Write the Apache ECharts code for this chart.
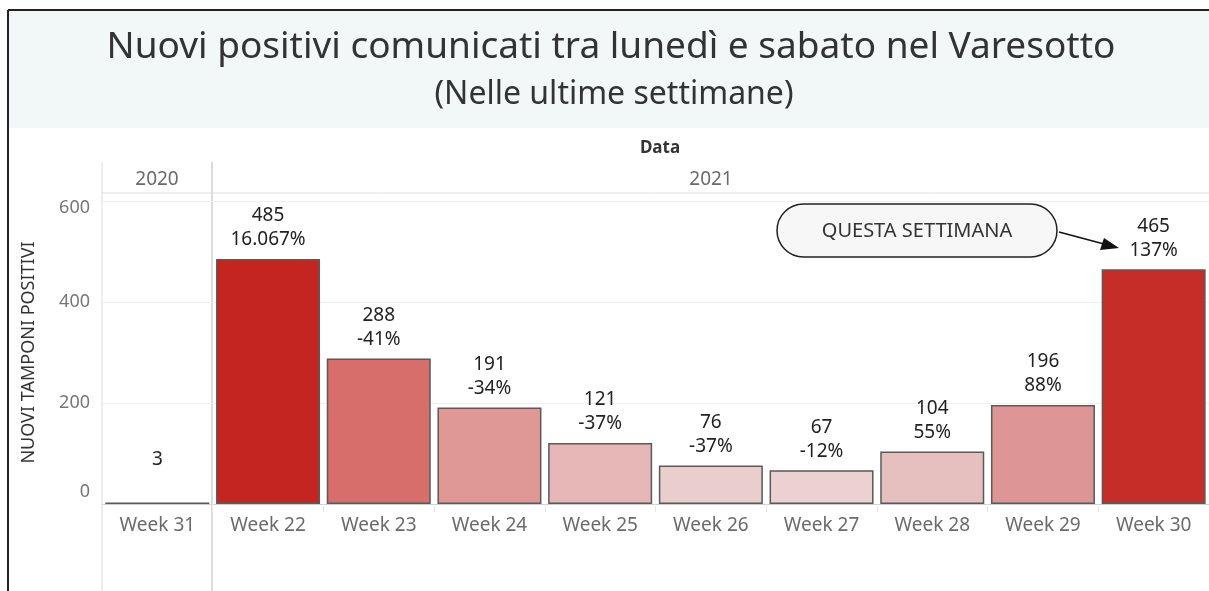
<!DOCTYPE html>
<html>
<head>
<meta charset="utf-8">
<script src="https://cdn.jsdelivr.net/npm/echarts@6/dist/echarts.min.js"></script>
<style>
  html, body { margin: 0; padding: 0; background: #fff; }
  #main { width: 1209px; height: 591px; }
</style>
</head>
<body>
<div id="main"></div>
<script>
// dati
const weeks = ["Week 31", "Week 22", "Week 23", "Week 24", "Week 25", "Week 26", "Week 27", "Week 28", "Week 29", "Week 30"];
const positivi = [3, 485, 288, 191, 121, 76, 67, 104, 196, 465];
const variazione = ["", "16.067%", "-41%", "-34%", "-37%", "-37%", "-12%", "55%", "88%", "137%"];
const years = ["2020", "2021"];
const yTicks = [0, 200, 400, 600];

// colori delle barre (scala rossa)
const barColors = ["#f4f4f4", "#c42520", "#d76e6b", "#df9896", "#e6b7b6", "#eacdcd", "#ebd1d1", "#e6c0bf", "#dd9695", "#c52d29"];

const font = "Noto Sans";
const chart = echarts.init(document.getElementById("main"));

// etichette asse y: la prima e l'ultima spostate verso l'interno come in Tableau
const yLabel = v => {
  if (!yTicks.includes(v)) return "";
  if (v === 0) return "{low|" + v + "}";
  if (v === 600) return "{high|" + v + "}";
  return String(v);
};

const option = {
  animation: false,
  textStyle: { fontFamily: font },
  grid: { left: 102, right: 0, top: 201, bottom: 87 },
  xAxis: {
    type: "category",
    data: weeks,
    axisLine: { lineStyle: { color: "#cfcfcf", width: 1 } },
    axisTick: { show: true, length: 8, lineStyle: { color: "#e8e8e8" } },
    axisLabel: { fontSize: 19, color: "#6b6b6b", margin: 12 }
  },
  yAxis: {
    type: "value",
    min: 0,
    max: 600,
    interval: 200,
    name: "NUOVI TAMPONI POSITIVI",
    nameLocation: "middle",
    nameGap: 64,
    nameTextStyle: { fontSize: 18, color: "#333" },
    axisLabel: {
      fontSize: 18, color: "#777", margin: 12,
      formatter: yLabel,
      rich: {
        low: { fontSize: 18, color: "#777", padding: [0, 0, 24, 0] },
        high: { fontSize: 18, color: "#777", padding: [14, 0, 0, 0] }
      }
    },
    splitLine: { lineStyle: { color: "#efefef" } }
  },
  series: [{
    type: "bar",
    data: positivi.map((v, i) => ({
      value: v,
      itemStyle: { color: barColors[i] }
    })),
    barWidth: 104,
    itemStyle: { borderColor: "#5a5a5a", borderWidth: 1.5 },
    label: {
      show: true,
      position: "top",
      distance: 7,
      fontSize: 19,
      lineHeight: 24,
      color: "#222",
      formatter: p => p.value + "\n" + (variazione[p.dataIndex] || " ")
    }
  }],
  graphic: [
    // fascia del titolo
    { type: "rect", shape: { x: 9, y: 11, width: 1200, height: 117 }, style: { fill: "#f2f8f8" }, silent: true },
    { type: "line", shape: { x1: 8, y1: 10, x2: 1209, y2: 10 }, style: { stroke: "#222", lineWidth: 2 } },
    { type: "line", shape: { x1: 8, y1: 10, x2: 8, y2: 591 }, style: { stroke: "#222", lineWidth: 2 } },
    { type: "text", x: 611, y: 47, style: {
        text: "Nuovi positivi comunicati tra lunedì e sabato nel Varesotto",
        fontSize: 37, fontFamily: font, fill: "#333", align: "center", verticalAlign: "middle" } },
    { type: "text", x: 614, y: 95, style: {
        text: "(Nelle ultime settimane)",
        fontSize: 32, fontFamily: font, fill: "#333", align: "center", verticalAlign: "middle" } },
    { type: "text", x: 660, y: 148, style: {
        text: "Data", fontSize: 17, fontWeight: "bold", fontFamily: font, fill: "#333",
        align: "center", verticalAlign: "middle" } },
    // intestazione anni
    { type: "line", shape: { x1: 102, y1: 162, x2: 102, y2: 591 }, style: { stroke: "#dcdcdc", lineWidth: 1 } },
    { type: "line", shape: { x1: 212, y1: 162, x2: 212, y2: 591 }, style: { stroke: "#cfcfcf", lineWidth: 1.5 } },
    { type: "line", shape: { x1: 102, y1: 193, x2: 1209, y2: 193 }, style: { stroke: "#dedede", lineWidth: 1 } },
    { type: "text", x: 157, y: 180, style: { text: years[0], fontSize: 19, fontFamily: font, fill: "#6b6b6b", align: "center", verticalAlign: "middle" } },
    { type: "text", x: 711, y: 180, style: { text: years[1], fontSize: 19, fontFamily: font, fill: "#6b6b6b", align: "center", verticalAlign: "middle" } },
    // annotazione
    { type: "rect", shape: { x: 777, y: 204, width: 280, height: 53, r: 26.5 },
      style: { fill: "#f7f7f7", stroke: "#222", lineWidth: 1.5 } },
    { type: "text", x: 917, y: 231, style: {
        text: "QUESTA SETTIMANA", fontSize: 20, fontFamily: font, fill: "#333",
        align: "center", verticalAlign: "middle" } },
    { type: "line", shape: { x1: 1059, y1: 232, x2: 1104, y2: 244 }, style: { stroke: "#111", lineWidth: 1.5 } },
    { type: "polygon", shape: { points: [[1119, 248], [1100, 250], [1104, 238]] }, style: { fill: "#111" } }
  ]
};

chart.setOption(option);
</script>
</body>
</html>
